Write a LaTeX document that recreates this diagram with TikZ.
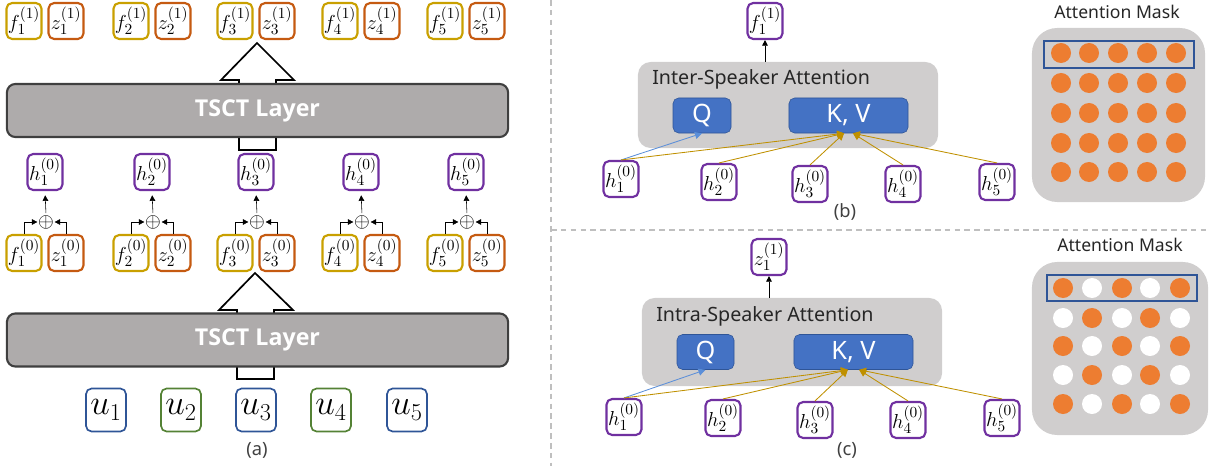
\documentclass[tikz,border=0pt]{standalone}
\usepackage{fontspec}
\setmainfont{Noto Sans}
\newfontfamily\layerfont{Open Sans}
\usetikzlibrary{arrows.meta}

\definecolor{fgold}{HTML}{C9A000}
\definecolor{zorange}{HTML}{C55A11}
\definecolor{hpurple}{HTML}{7030A0}
\definecolor{ublue}{HTML}{2F5597}
\definecolor{ugreen}{HTML}{548235}
\definecolor{layergray}{HTML}{AEABAB}
\definecolor{layerline}{HTML}{3F3F3F}
\definecolor{panelgray}{HTML}{D0CECE}
\definecolor{qblue}{HTML}{4472C4}
\definecolor{qdark}{HTML}{2F5597}
\definecolor{kvgold}{HTML}{BF9000}
\definecolor{qlinecol}{HTML}{5B8FD9}
\definecolor{maskorange}{HTML}{ED7D31}

\begin{document}
\begin{tikzpicture}[
x=0.025cm, y=-0.025cm,
>={Triangle[length=4pt,width=4pt]},
sym/.style={draw, rounded corners=4pt, line width=1.5pt, fill=white, minimum width=0.875cm, minimum height=0.9cm, inner sep=0pt, font=\fontsize{15}{17}\selectfont},
fbox/.style={sym, draw=fgold},
zbox/.style={sym, draw=zorange},
hbox/.style={sym, draw=hpurple},
ubox/.style={sym, minimum width=1cm, minimum height=1.075cm, line width=1.2pt, font=\fontsize{24}{28}\selectfont},
plusnode/.style={inner sep=0.3pt, font=\fontsize{15}{17}\selectfont},
tsct/.style={draw=layerline, fill=layergray, line width=1.5pt, rounded corners=6pt, minimum width=12.525cm, minimum height=1.325cm, text=white, font=\layerfont\fontsize{16.5}{19}\selectfont\bfseries},
hollow/.style={draw, line width=1.2pt, fill=white},
attn/.style={fill=panelgray, rounded corners=9pt, minimum width=7.5cm, minimum height=2.15cm},
query/.style={draw=qdark, fill=qblue, rounded corners=4pt, text=white, minimum height=0.875cm, font=\fontsize{18}{21}\selectfont},
attntitle/.style={anchor=west, inner sep=0pt, text=black!85, font=\fontsize{14}{17}\selectfont},
masktitle/.style={text=black!85, font=\fontsize{12.5}{15}\selectfont},
maskbox/.style={fill=panelgray, rounded corners=18pt, minimum width=4.325cm, minimum height=4.35cm},
rowframe/.style={draw=qdark, line width=1.5pt, minimum width=3.75cm, minimum height=0.66cm},
maskdot/.style={circle, inner sep=0pt, minimum size=0.5cm, fill=maskorange},
capt/.style={text=black!75, font=\fontsize{13}{15}\selectfont},
kvarrow/.style={draw=kvgold, line width=0.6pt, -{Triangle[length=5pt,width=5pt]}},
qarrow/.style={draw=qlinecol, line width=0.6pt, -{Triangle[length=5pt,width=5pt]}},
divider/.style={draw=black!25, line width=0.8pt, dash pattern=on 4pt off 3pt}
]
\useasboundingbox (0,0) rectangle (1210,466);

% (a) hollow arrows behind the layers
\draw[hollow] (239,150) -- (239,80) -- (221,80) -- (257,43) -- (294,80) -- (276,80) -- (276,150) -- cycle;
\draw[hollow] (237,379) -- (237,310) -- (219,310) -- (255,273) -- (293,310) -- (274,310) -- (274,379) -- cycle;

\node[tsct] (layer2) at (257.5,110.5) {TSCT Layer};
\node[tsct] (layer1) at (257.5,340) {TSCT Layer};

\foreach \i/\c in {1/45,2/152,3/256,4/361,5/466} {
  \node[fbox] (fa\i) at (\c-21,21) {$f_{\i}^{(1)}$};
  \node[zbox] (za\i) at (\c+21,21) {$z_{\i}^{(1)}$};
  \node[hbox] (h\i) at (\c,172) {$h_{\i}^{(0)}$};
  \node[plusnode] (plus\i) at (\c+1,222) {$\oplus$};
  \node[fbox] (f\i) at (\c-21,253) {$f_{\i}^{(0)}$};
  \node[zbox] (z\i) at (\c+21,253) {$z_{\i}^{(0)}$};
  \draw[->] (f\i.north) |- (plus\i.west);
  \draw[->] (z\i.north) |- (plus\i.east);
  \draw[->, shorten >=3pt, shorten <=1pt] (plus\i.north) -- (h\i.south);
}

\foreach \i/\x/\col in {1/106/ublue,2/181/ugreen,3/256/ublue,4/331/ugreen,5/407/ublue}
  \node[ubox, draw=\col] (u\i) at (\x,410) {$u_{\i}$};

\node[capt] (capa) at (257,450) {(a)};

% dividers
\draw[divider] (551,0) -- (551,466);
\draw[divider] (551,230) -- (1210,230);

% (b) inter-speaker attention
\node[attn] (inter) at (788,105) {};
\node[attntitle] (intertitle) at (652,79) {Inter-Speaker Attention};
\node[query, minimum width=1.45cm] (qb) at (702,115.5) {Q};
\node[query, minimum width=2.975cm] (kvb) at (848.5,115.5) {K, V};
\node[hbox] (fb) at (765,21) {$f_1^{(1)}$};
\node[hbox] (hb1) at (621,179) {$h_1^{(0)}$};
\node[hbox] (hb2) at (719,182) {$h_2^{(0)}$};
\node[hbox] (hb3) at (810,184) {$h_3^{(0)}$};
\node[hbox] (hb4) at (903,184) {$h_4^{(0)}$};
\node[hbox] (hb5) at (997,182) {$h_5^{(0)}$};

\draw[->] (fb.south |- inter.north) -- (fb.south);
\draw[qarrow] (hb1.north) -- (qb.south);
\foreach \i in {1,2,3}
  \draw[kvarrow] (hb\i.north) -- ([xshift=-0.11cm]kvb.south);
\foreach \i in {4,5}
  \draw[kvarrow] (hb\i.north) -- ([xshift=0.11cm]kvb.south);

\node[capt] (capb) at (845,212) {(b)};

\node[masktitle] (maskbtitle) at (1117,12) {Attention Mask};
\node[maskbox] (maskb) at (1118.5,115) {};
\foreach \r/\y in {1/53,2/83,3/113,4/143,5/172}
  \foreach \k/\x in {1/1061,2/1089,3/1118,4/1147,5/1176}
    \node[maskdot] (db\r\k) at (\x,\y) {};
\node[rowframe] (rowb) at (1119,54.5) {};

% (c) intra-speaker attention
\node[attn, minimum height=2.2cm] (intra) at (792,342) {};
\node[attntitle] (intratitle) at (656,316) {Intra-Speaker Attention};
\node[query, minimum width=1.425cm] (qc) at (705.5,352) {Q};
\node[query, minimum width=2.975cm] (kvc) at (853.5,352) {K, V};
\node[hbox] (zc) at (769,257) {$z_1^{(1)}$};
\node[hbox] (hc1) at (624,417) {$h_1^{(0)}$};
\node[hbox] (hc2) at (723,418) {$h_2^{(0)}$};
\node[hbox] (hc3) at (815,420) {$h_3^{(0)}$};
\node[hbox] (hc4) at (908,420) {$h_4^{(0)}$};
\node[hbox] (hc5) at (1002,418) {$h_5^{(0)}$};

\draw[->] (zc.south |- intra.north) -- (zc.south);
\draw[qarrow] (hc1.north) -- (qc.south);
\foreach \i in {1,2,3}
  \draw[kvarrow] (hc\i.north) -- ([xshift=-0.14cm]kvc.south);
\foreach \i in {4,5}
  \draw[kvarrow] (hc\i.north) -- ([xshift=0.14cm]kvc.south);

\node[capt] (capc) at (847,450) {(c)};

\node[masktitle] (maskctitle) at (1120,245) {Attention Mask};
\node[maskbox, minimum width=4.4cm, minimum height=4.325cm] (maskc) at (1120,348.5) {};
\foreach \r/\y in {1/288,2/318,3/346,4/375,5/404}
  \foreach \k/\x in {1/1063,2/1092,3/1122,4/1150,5/1180} {
    \ifodd\numexpr\r+\k\relax \def\dotcol{white}\else \def\dotcol{maskorange}\fi
    \node[maskdot, fill=\dotcol] (dc\r\k) at (\x,\y) {};
  }
\node[rowframe] (rowc) at (1122,288) {};

\end{tikzpicture}
\end{document}
